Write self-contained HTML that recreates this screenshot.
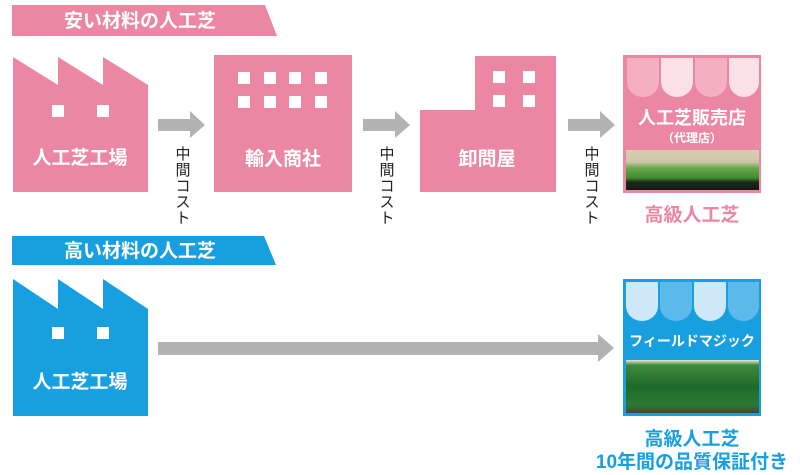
<!DOCTYPE html>
<html><head><meta charset="utf-8"><style>
html,body{margin:0;padding:0;background:#fff;width:800px;height:475px;overflow:hidden}
svg{display:block}
text{font-family:"Liberation Sans","Noto Sans CJK JP",sans-serif;font-weight:bold}
</style></head><body>
<svg width="800" height="475" viewBox="0 0 800 475" xmlns="http://www.w3.org/2000/svg">
<defs>
<linearGradient id="g1" x1="0" y1="0" x2="0" y2="1">
<stop offset="0" stop-color="#d9cdb4"/><stop offset="0.3" stop-color="#cfc6a8"/><stop offset="0.45" stop-color="#6aa84a"/><stop offset="0.7" stop-color="#3f8a2e"/><stop offset="0.8" stop-color="#1e2a1c"/><stop offset="1" stop-color="#141a14"/>
</linearGradient>
<linearGradient id="g2" x1="0" y1="0" x2="0" y2="1">
<stop offset="0" stop-color="#e8e4d4"/><stop offset="0.1" stop-color="#3d8a3a"/><stop offset="0.5" stop-color="#1f6a2a"/><stop offset="0.85" stop-color="#2a7a34"/><stop offset="1" stop-color="#3a4a3a"/>
</linearGradient>
</defs>
<polygon points="12,5 265,5 277,36 12,36" fill="#ec87a3"/>
<text x="140" y="27" fill="#fff" font-size="19" text-anchor="middle">安い材料の人工芝</text>
<polygon points="13,57 58,85 58,57 103,85 103,57 148,85 148,192 13,192" fill="#ec87a3"/>
<rect x="52" y="105" width="12" height="12" fill="#fff"/><rect x="97" y="105" width="12" height="12" fill="#fff"/>
<text x="80" y="164" fill="#fff" font-size="19" text-anchor="middle">人工芝工場</text>
<g fill="#b3b3b3">
<polygon points="158,119 190,119 190,111 205,125 190,138 190,131 158,131"/>
<polygon points="363,119 395,119 395,111 410,125 395,138 395,131 363,131"/>
<polygon points="568,119 600,119 600,111 615,125 600,138 600,131 568,131"/>
<polygon points="158,342 598,342 598,334 614,348 598,362 598,355 158,355"/>
</g>
<g font-size="15" fill="#222" text-anchor="middle">
<text x="183" y="159" style="font-weight:normal">中</text><text x="183" y="175" style="font-weight:normal">間</text><text x="183" y="191" style="font-weight:normal">コ</text><text x="183" y="207" style="font-weight:normal">ス</text><text x="183" y="223" style="font-weight:normal">ト</text>
<text x="387" y="159" style="font-weight:normal">中</text><text x="387" y="175" style="font-weight:normal">間</text><text x="387" y="191" style="font-weight:normal">コ</text><text x="387" y="207" style="font-weight:normal">ス</text><text x="387" y="223" style="font-weight:normal">ト</text>
<text x="592" y="159" style="font-weight:normal">中</text><text x="592" y="175" style="font-weight:normal">間</text><text x="592" y="191" style="font-weight:normal">コ</text><text x="592" y="207" style="font-weight:normal">ス</text><text x="592" y="223" style="font-weight:normal">ト</text>
</g>
<rect x="214" y="55" width="138" height="137" fill="#ec87a3"/>
<g fill="#fff">
<rect x="238" y="72" width="12" height="12"/><rect x="264" y="72" width="12" height="12"/><rect x="289" y="72" width="12" height="12"/><rect x="315" y="72" width="12" height="12"/>
<rect x="238" y="96" width="12" height="12"/><rect x="264" y="96" width="12" height="12"/><rect x="289" y="96" width="12" height="12"/><rect x="315" y="96" width="12" height="12"/>
</g>
<text x="283" y="165" fill="#fff" font-size="19" text-anchor="middle">輸入商社</text>
<polygon points="475,56 556,56 556,192 420,192 420,110 475,110" fill="#ec87a3"/>
<g fill="#fff"><rect x="493" y="71" width="12" height="12"/><rect x="523" y="71" width="12" height="12"/><rect x="493" y="95" width="12" height="12"/><rect x="523" y="95" width="12" height="12"/></g>
<text x="487" y="165" fill="#fff" font-size="19" text-anchor="middle">卸問屋</text>
<rect x="623" y="55" width="138" height="138" fill="#ec87a3"/>
<path d="M627,58 h32 v24 a16,15 0 0 1 -32,0 z" fill="#f4b0c1"/>
<path d="M661,58 h32 v24 a16,15 0 0 1 -32,0 z" fill="#fbe1e7"/>
<path d="M695,58 h32 v24 a16,15 0 0 1 -32,0 z" fill="#f4b0c1"/>
<path d="M729,58 h30 v24 a15,15 0 0 1 -30,0 z" fill="#fbe1e7"/>
<text x="692" y="124" fill="#fff" font-size="18" text-anchor="middle">人工芝販売店</text>
<text x="692" y="142" fill="#fff" font-size="12" text-anchor="middle">（代理店）</text>
<rect x="626" y="150" width="133" height="40" fill="url(#g1)"/>
<text x="692" y="221" fill="#ec87a3" font-size="19" text-anchor="middle">高級人工芝</text>
<polygon points="12,236 264,236 276,265 12,265" fill="#179fdf"/>
<text x="140" y="257" fill="#fff" font-size="19" text-anchor="middle">高い材料の人工芝</text>
<polygon points="13,279 58,309 58,279 103,309 103,279 148,309 148,416 13,416" fill="#179fdf"/>
<rect x="52" y="327" width="12" height="12" fill="#fff"/><rect x="97" y="327" width="12" height="12" fill="#fff"/>
<text x="80" y="388" fill="#fff" font-size="19" text-anchor="middle">人工芝工場</text>
<rect x="623" y="279" width="138" height="137" fill="#179fdf"/>
<path d="M626,282 h32 v24 a16,15 0 0 1 -32,0 z" fill="#cfe8f8"/>
<path d="M660,282 h32 v24 a16,15 0 0 1 -32,0 z" fill="#5cb9ec"/>
<path d="M694,282 h32 v24 a16,15 0 0 1 -32,0 z" fill="#cfe8f8"/>
<path d="M728,282 h31 v24 a15.5,15 0 0 1 -31,0 z" fill="#5cb9ec"/>
<text x="692" y="346" fill="#fff" font-size="14" text-anchor="middle">フィールドマジック</text>
<rect x="626" y="360" width="133" height="53" fill="url(#g2)"/>
<text x="692" y="445" fill="#179fdf" font-size="19" text-anchor="middle">高級人工芝</text>
<text x="692" y="468" fill="#179fdf" font-size="19" text-anchor="middle">10年間の品質保証付き</text>
</svg>
</body></html>
